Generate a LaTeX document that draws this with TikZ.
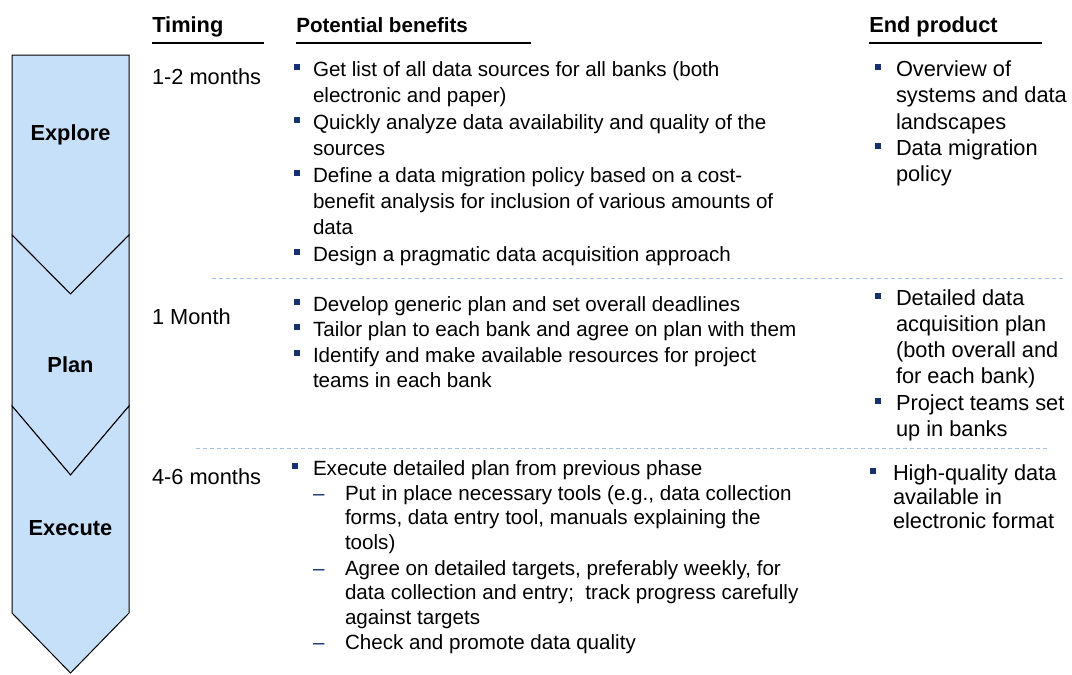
\documentclass[tikz,border=0pt]{standalone}
\usepackage{fontspec}
\setmainfont{Liberation Sans}
\definecolor{chevfill}{RGB}{198,224,250}
\definecolor{navy}{RGB}{22,50,110}
\definecolor{dashblue}{RGB}{160,190,235}
\newcommand{\bigf}{\fontsize{16.35pt}{19.7pt}\selectfont}
\newcommand{\smallf}{\fontsize{15.45pt}{19.8pt}\selectfont}
\newcommand{\bul}[1]{\leavevmode\llap{\textcolor{navy}{\rule[4.75pt]{4.5pt}{4.5pt}}\hspace{#1}}}
\newcommand{\subdash}{\leavevmode\llap{\makebox[24pt][l]{\textcolor{navy}{–}}}}
\newcommand{\ptxt}[3]{\parbox[t]{600pt}{\raggedright\fontsize{#1}{#2}\selectfont #3}}
\begin{document}
\begin{tikzpicture}[x=0.75pt,y=-0.75pt,
  txt/.style={anchor=base west, inner sep=0pt, outer sep=0pt},
  hdr/.style={anchor=base west, inner sep=0pt, font=\bfseries},
  chev/.style={draw=black, line width=0.75pt, fill=chevfill, line join=miter},
  chevlabel/.style={anchor=base, inner sep=0pt, font=\bigf\bfseries},
  uline/.style={draw=black, line width=0.9pt},
  sep/.style={draw=dashblue, line width=0.75pt, dash pattern=on 3pt off 2.25pt}]
\useasboundingbox (0,0) rectangle (1072,675);

% chevrons
\draw[chev] (12,55) -- (129,55) -- (129,235) -- (70.5,294) -- (12,235) -- cycle;
\draw[chev] (12,235) -- (70.5,294) -- (129,235) -- (129,406) -- (70.5,475) -- (12,406) -- cycle;
\draw[chev] (12,406) -- (70.5,475) -- (129,406) -- (129,613) -- (70.5,673) -- (12,613) -- cycle;
\node[chevlabel] (lexplore) at (70.5,140) {Explore};
\node[chevlabel] (lplan) at (70.5,372) {Plan};
\node[chevlabel] (lexecute) at (70.5,535) {Execute};

% headers
\node[hdr, font=\bigf\bfseries] (htiming) at (152,32) {Timing};
\node[hdr, font=\smallf\bfseries] (hbenefit) at (296,32) {Potential benefits};
\node[hdr, font=\bigf\bfseries] (hend) at (869,32) {End product};
\coordinate (u1a) at (152,43); \coordinate (u1b) at (264,43);
\coordinate (u2a) at (296,43); \coordinate (u2b) at (531,43);
\coordinate (u3a) at (869,43); \coordinate (u3b) at (1042,43);
\draw[uline] (u1a) -- (u1b);
\draw[uline] (u2a) -- (u2b);
\draw[uline] (u3a) -- (u3b);

% separators
\coordinate (s1a) at (212,278); \coordinate (s1b) at (1064,278);
\coordinate (s2a) at (196,448); \coordinate (s2b) at (1048,448);
\draw[sep] (s1a) -- (s1b);
\draw[sep] (s2a) -- (s2b);

% timing
\node[txt, font=\bigf] (t1) at (152,84) {1-2 months};
\node[txt, font=\bigf] (t2) at (152,324) {1 Month};
\node[txt, font=\bigf] (t3) at (152,484) {4-6 months};

% explore benefits
\node[txt] (b11) at (313,76.5) {\ptxt{15.45pt}{19.8pt}{\bul{9.5pt}Get list of all data sources for all banks (both\\electronic and paper)}};
\node[txt] (b12) at (313,129.3) {\ptxt{15.45pt}{19.8pt}{\bul{9.5pt}Quickly analyze data availability and quality of the\\sources}};
\node[txt] (b13) at (313,182.1) {\ptxt{15.45pt}{19.8pt}{\bul{9.5pt}Define a data migration policy based on a cost-\\benefit analysis for inclusion of various amounts of\\data}};
\node[txt] (b14) at (313,261.3) {\ptxt{15.45pt}{19.8pt}{\bul{9.5pt}Design a pragmatic data acquisition approach}};

% plan benefits
\node[txt] (b21) at (313,311.5) {\ptxt{15.45pt}{19pt}{\bul{9.5pt}Develop generic plan and set overall deadlines}};
\node[txt] (b22) at (313,336.8) {\ptxt{15.45pt}{19pt}{\bul{9.5pt}Tailor plan to each bank and agree on plan with them}};
\node[txt] (b23) at (313,362.1) {\ptxt{15.45pt}{19pt}{\bul{9.5pt}Identify and make available resources for project\\teams in each bank}};

% execute benefits
\node[txt] (b31) at (313,475) {\ptxt{15.45pt}{18.7pt}{\bul{11pt}Execute detailed plan from previous phase}};
\node[txt] (b32) at (345,500) {\ptxt{15.45pt}{18.7pt}{\subdash Put in place necessary tools (e.g., data collection\\forms, data entry tool, manuals explaining the\\tools)}};
\node[txt] (b33) at (345,575) {\ptxt{15.45pt}{18.7pt}{\subdash Agree on detailed targets, preferably weekly, for\\data collection and entry;\ \ track progress carefully\\against targets}};
\node[txt] (b34) at (345,649) {\ptxt{15.45pt}{18.7pt}{\subdash Check and promote data quality}};

% end products
\node[txt] (e11) at (896,76.5) {\ptxt{16.35pt}{19.7pt}{\bul{11.5pt}Overview of\\systems and data\\landscapes}};
\node[txt] (e12) at (896,155.4) {\ptxt{16.35pt}{19.7pt}{\bul{11.5pt}Data migration\\policy}};
\node[txt] (e21) at (896,305) {\ptxt{16.35pt}{19.65pt}{\bul{11.5pt}Detailed data\\acquisition plan\\(both overall and\\for each bank)}};
\node[txt] (e22) at (896,410) {\ptxt{16.35pt}{19.65pt}{\bul{11.5pt}Project teams set\\up in banks}};
\node[txt] (e31) at (893,480) {\ptxt{16.35pt}{18pt}{\bul{13pt}High-quality data\\available in\\electronic format}};
\end{tikzpicture}
\end{document}
